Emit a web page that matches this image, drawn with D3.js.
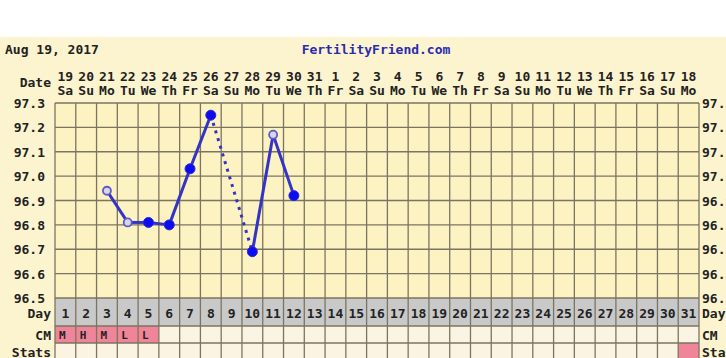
<!DOCTYPE html>
<html>
<head>
<meta charset="utf-8">
<script src="https://d3js.org/d3.v7.min.js"></script>
<style>
  body { margin:0; background:#fff; }
  text { font-family:"DejaVu Sans Mono", monospace; font-weight:bold; }
</style>
</head>
<body>
<script>
var width = 726, height = 358;

// data
var cycleDays = d3.range(1, 32);
var dateLabels = ["19","20","21","22","23","24","25","26","27","28","29","30","31","1","2","3","4","5","6","7","8","9","10","11","12","13","14","15","16","17","18"];
var weekLabels = ["Sa","Su","Mo","Tu","We","Th","Fr","Sa","Su","Mo","Tu","We","Th","Fr","Sa","Su","Mo","Tu","We","Th","Fr","Sa","Su","Mo","Tu","We","Th","Fr","Sa","Su","Mo"];
var tempTicks = [97.3, 97.2, 97.1, 97.0, 96.9, 96.8, 96.7, 96.6, 96.5];
var tempDays  = [3, 4, 5, 6, 7, 8, 10, 11, 12];
var tempVals  = [96.94, 96.81, 96.81, 96.80, 97.03, 97.25, 96.69, 97.17, 96.92];
var tempOpen  = [true, true, false, false, false, false, false, true, false];
var cmDays = [1, 2, 3, 4, 5];
var cmVals = ["M", "H", "M", "L", "L"];
var statsPink = [31];

var svg = d3.select("body").append("svg")
  .attr("width", width).attr("height", height);

// panel
svg.append("rect").attr("x",0).attr("y",37).attr("width",width).attr("height",height-37)
  .attr("fill","#fcf4cf");

svg.append("text").attr("x",5).attr("y",54).attr("font-size",13).attr("fill","#222")
  .text("Aug 19, 2017");
svg.append("text").attr("x",376).attr("y",54).attr("font-size",13).attr("fill","#2b2bb0")
  .attr("text-anchor","middle").text("FertilityFriend.com");

var x = d3.scaleBand().domain(cycleDays).range([55, 699]);
var y = d3.scaleLinear().domain([96.5, 97.3]).range([298, 103]);

// temp area
svg.append("rect").attr("x",55).attr("y",103).attr("width",644).attr("height",195)
  .attr("fill","#fdf2c2");

// day row, cm row, stats row
var rows = [
  {top:298, h:28, fill:"#c9c9c9", name:"Day"},
  {top:326, h:17, fill:"#fcf4e3", name:"CM"},
  {top:343, h:17, fill:"#fcf4e3", name:"Stats"}
];
rows.forEach(function(r){
  svg.selectAll(null).data(cycleDays).enter().append("rect")
    .attr("x", function(d){ return x(d); })
    .attr("y", r.top).attr("width", x.bandwidth()).attr("height", r.h)
    .attr("fill", function(d){
      if (r.name=="CM" && cmDays.indexOf(d)>=0) return "#f0859a";
      if (r.name=="Stats" && statsPink.indexOf(d)>=0) return "#f0859a";
      return r.fill;
    });
});

// grid lines
var gridColor = "#7a7562";
svg.selectAll(null).data(tempTicks).enter().append("line")
  .attr("x1",55).attr("x2",699)
  .attr("y1",function(d){ return y(d); }).attr("y2",function(d){ return y(d); })
  .attr("stroke",gridColor).attr("stroke-width",1.3);
[326, 343].forEach(function(yy){
  svg.append("line").attr("x1",55).attr("x2",699).attr("y1",yy).attr("y2",yy)
    .attr("stroke",gridColor).attr("stroke-width",1.3);
});
svg.selectAll(null).data(d3.range(0, 32)).enter().append("line")
  .attr("x1",function(d){ return 55 + d*x.step(); })
  .attr("x2",function(d){ return 55 + d*x.step(); })
  .attr("y1",103).attr("y2",height)
  .attr("stroke",gridColor).attr("stroke-width",1.3);

// date header
svg.selectAll(null).data(cycleDays).enter().append("text")
  .attr("x",function(d){ return x(d) + x.bandwidth()/2; }).attr("y",81)
  .attr("text-anchor","middle").attr("font-size",13).attr("fill","#222")
  .text(function(d,i){ return dateLabels[i]; });
svg.selectAll(null).data(cycleDays).enter().append("text")
  .attr("x",function(d){ return x(d) + x.bandwidth()/2; }).attr("y",95)
  .attr("text-anchor","middle").attr("font-size",13).attr("fill","#222")
  .text(function(d,i){ return weekLabels[i]; });
svg.append("text").attr("x",51).attr("y",87).attr("text-anchor","end")
  .attr("font-size",13).attr("fill","#222").text("Date");

// temp labels left and right
svg.selectAll(null).data(tempTicks).enter().append("text")
  .attr("x",45).attr("y",function(d){ return y(d)+5; })
  .attr("text-anchor","end").attr("font-size",13).attr("fill","#222")
  .text(function(d){ return d.toFixed(1); });
svg.selectAll(null).data(tempTicks).enter().append("text")
  .attr("x",702).attr("y",function(d){ return y(d)+5; })
  .attr("font-size",13).attr("fill","#222")
  .text(function(d){ return d.toFixed(1); });

// row labels
rows.forEach(function(r){
  var yy = r.name=="Day" ? 318 : (r.name=="CM" ? 340 : 357);
  svg.append("text").attr("x",51).attr("y",yy).attr("text-anchor","end")
    .attr("font-size",13).attr("fill","#222").text(r.name);
  svg.append("text").attr("x",702).attr("y",yy)
    .attr("font-size",13).attr("fill","#222").text(r.name);
});

// day numbers
svg.selectAll(null).data(cycleDays).enter().append("text")
  .attr("x",function(d){ return x(d) + x.bandwidth()/2; }).attr("y",318)
  .attr("text-anchor","middle").attr("font-size",13).attr("fill","#222")
  .text(function(d){ return d; });

// cm letters
svg.selectAll(null).data(cmDays).enter().append("text")
  .attr("x",function(d){ return x(d) + 4; }).attr("y",339)
  .attr("font-size",11).attr("fill","#222")
  .text(function(d,i){ return cmVals[i]; });

// temperature line
var pts = tempDays.map(function(d,i){ return {day:d, v:tempVals[i], open:tempOpen[i]}; });
var lineColor = "#3434c4";
var cx = function(p){ return x(p.day) + x.bandwidth()/2; };
for (var i = 1; i < pts.length; i++) {
  var a = pts[i-1], b = pts[i];
  svg.append("line")
    .attr("x1",cx(a)).attr("y1",y(a.v)).attr("x2",cx(b)).attr("y2",y(b.v))
    .attr("stroke",lineColor).attr("stroke-width",3)
    .attr("stroke-dasharray", b.day - a.day > 1 ? "3,5" : null);
}
svg.selectAll(null).data(pts).enter().append("circle")
  .attr("cx",cx).attr("cy",function(p){ return y(p.v); })
  .attr("r",function(p){ return p.open ? 4 : 5; })
  .attr("fill",function(p){ return p.open ? "#d8d6ec" : "#0c0cf0"; })
  .attr("stroke",function(p){ return p.open ? "#5a5acc" : "#2a2ad8"; })
  .attr("stroke-width",function(p){ return p.open ? 1.8 : 1; });
</script>
</body>
</html>
